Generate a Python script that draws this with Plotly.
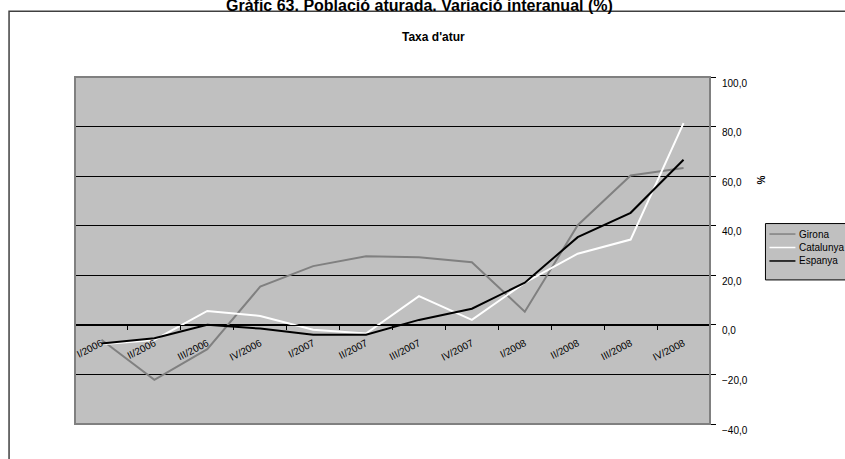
import plotly.graph_objects as go

categories = ["I/2006", "II/2006", "III/2006", "IV/2006", "I/2007", "II/2007",
              "III/2007", "IV/2007", "I/2008", "II/2008", "III/2008", "IV/2008"]
girona = [-6.0, -22.2, -9.8, 15.4, 23.7, 27.7, 27.3, 25.3, 5.3, 40.2, 60.3, 63.3]
catalunya = [-7.8, -6.1, 5.6, 3.6, -2.0, -3.5, 11.6, 2.0, 17.0, 28.7, 34.4, 81.4]
espanya = [-7.5, -5.4, 0.0, -1.5, -4.0, -4.0, 2.0, 6.5, 17.0, 35.4, 45.2, 66.6]
y_ticks = [-40, -20, 0, 20, 40, 60, 80, 100]
series_names = ["Girona", "Catalunya", "Espanya"]
series_colors = ["#808080", "#ffffff", "#000000"]

W, H = 845, 459
L, R, T, B = 75, 710.5, 76.6, 424.4
PW, PH = R - L, B - T


def px(x):
    return (x - L) / PW


def py(y):
    return (B - y) / PH


FONT = "Arial, Liberation Sans, sans-serif"

fig = go.Figure()
for name, vals, col in zip(series_names, [girona, catalunya, espanya], series_colors):
    fig.add_trace(go.Scatter(x=categories, y=vals, name=name, mode="lines",
                             line=dict(color=col, width=2), showlegend=False))

ymin, ymax = y_ticks[0], y_ticks[-1]

shapes = [
    dict(type="rect", xref="paper", yref="paper", x0=0, x1=1, y0=0, y1=1,
         line=dict(color="#808080", width=2), layer="above"),
    dict(type="rect", xref="paper", yref="paper", x0=px(9), x1=px(860),
         y0=py(480), y1=py(10.7), line=dict(color="#404040", width=1.5)),
    # legend box
    dict(type="rect", xref="paper", yref="paper", x0=px(766), x1=px(870),
         y0=py(280), y1=py(223.5), fillcolor="#c0c0c0",
         line=dict(color="black", width=1)),
]
annotations = [
    dict(text="<b>Gràfic 63. Població aturada. Variació interanual (%)</b>",
         xref="paper", yref="paper", x=px(420), y=py(4.5), xanchor="center",
         yanchor="middle", showarrow=False,
         font=dict(size=16, family=FONT, color="black")),
    dict(text="<b>Taxa d'atur</b>", xref="paper", yref="paper",
         x=px(434), y=py(37), xanchor="center", yanchor="middle",
         showarrow=False, font=dict(size=12, family=FONT, color="black")),
    dict(text="<b>%</b>", xref="paper", yref="paper", x=px(762), y=py(180),
         xanchor="center", yanchor="middle", textangle=-90,
         showarrow=False, font=dict(size=10, family=FONT, color="black")),
]
legend_rows = [234, 247.5, 261]
for name, col, yy in zip(series_names, series_colors, legend_rows):
    shapes.append(dict(type="line", xref="paper", yref="paper",
                       x0=px(770), x1=px(796), y0=py(yy), y1=py(yy),
                       line=dict(color=col, width=1.5)))
    annotations.append(dict(text=name, xref="paper", yref="paper",
                            x=px(798), y=py(yy), xanchor="left", yanchor="middle",
                            showarrow=False,
                            font=dict(size=10, family=FONT, color="black")))

fig.update_layout(
    width=W, height=H,
    margin=dict(l=L, r=W - R, t=T, b=H - B, autoexpand=False),
    paper_bgcolor="white",
    plot_bgcolor="#c0c0c0",
    separators=",.",
    font=dict(family=FONT, size=10, color="black"),
    showlegend=False,
    xaxis=dict(type="category", range=[-0.5, len(categories) - 0.5],
               anchor="free", position=(0 - ymin) / (ymax - ymin),
               showline=True, linecolor="black", linewidth=1,
               ticks="outside", tickson="boundaries", ticklen=4,
               tickcolor="black", showgrid=False, tickangle=-27,
               ticklabelstandoff=8,
               tickfont=dict(size=10, family=FONT), fixedrange=True),
    yaxis=dict(range=[ymin, ymax], side="right", tickvals=y_ticks,
               tickformat=".1f", showline=True, linecolor="black", linewidth=1,
               ticks="outside", ticklen=5, tickcolor="black",
               showgrid=True, gridcolor="black", gridwidth=1, zeroline=False,
               tickfont=dict(size=10, family=FONT), ticklabelstandoff=4,
               ticklabelshift=6, fixedrange=True),
    shapes=shapes,
    annotations=annotations,
)

fig.write_html("out.html", config={"displayModeBar": False},
               post_script="document.body.style.margin='0px';")
